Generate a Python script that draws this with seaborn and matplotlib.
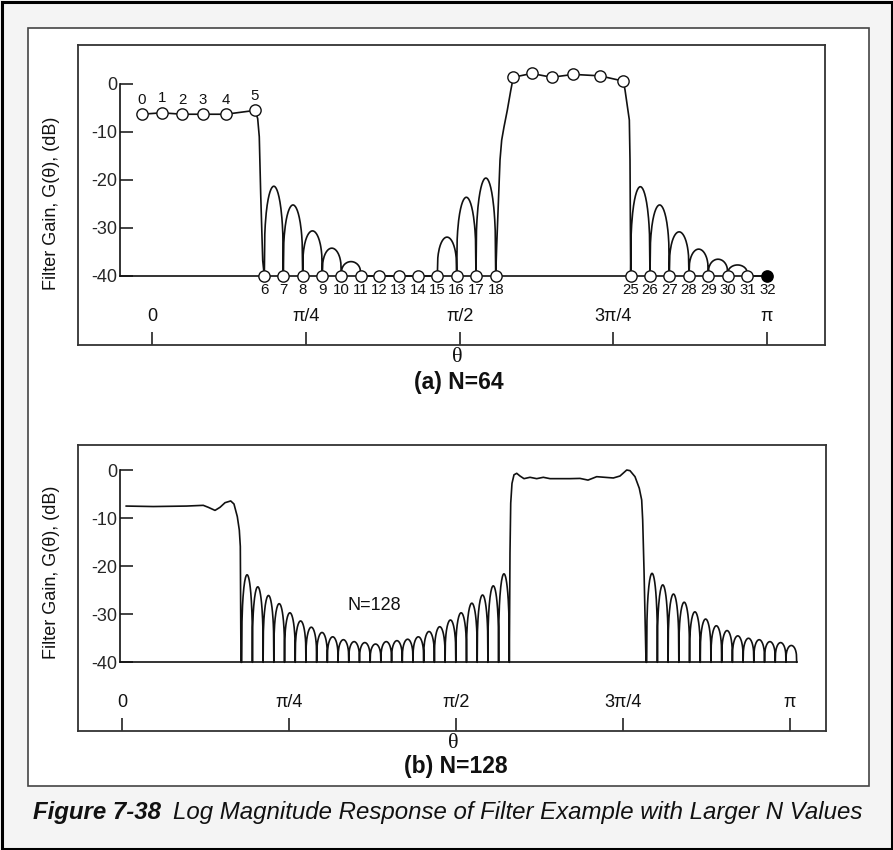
import numpy as np
import matplotlib
matplotlib.use("Agg")
import matplotlib.pyplot as plt
from matplotlib.patches import Rectangle
import seaborn as sns

sns.set_style("white")
plt.rcParams["font.family"] = ["Liberation Sans", "DejaVu Sans"]
plt.rcParams["text.color"] = "#111111"

# ---------------------------------------------------------------- data
# x values are theta / pi, as drawn in the figure
FLOOR = -40

# (a) N=64 : frequency samples k = 0..32
pts64_label = [str(k) for k in range(33)]
pts64_theta = [-0.0174, 0.0151, 0.0487, 0.0823, 0.1193, 0.1669,
               0.1821, 0.2130, 0.2445, 0.2764, 0.3074, 0.3389, 0.3692,
               0.4007, 0.4322, 0.4636, 0.4951, 0.5265, 0.5586,
               0.5872, 0.6171, 0.6497, 0.6848, 0.7283, 0.7662,
               0.7782, 0.8096, 0.8410, 0.8731, 0.9045, 0.9361, 0.9680, 1.0005]
pts64_gain = [-6.3, -6.0, -6.3, -6.3, -6.3, -5.5,
              -40, -40, -40, -40, -40, -40, -40, -40, -40, -40, -40, -40, -40,
              1.4, 2.2, 1.4, 2.0, 1.7, 0.6,
              -40, -40, -40, -40, -40, -40, -40, -40]
# transition edges between samples
drop64a_theta = [0.1713, 0.1739, 0.1762, 0.1795]
drop64a_gain = [-7.2, -11.0, -22.9, -36.8]
rise64_theta = [0.5602, 0.5628, 0.5656, 0.5683, 0.5720, 0.5774, 0.5830]
rise64_gain = [-33.7, -25.0, -15.8, -11.7, -9.0, -5.5, -1.4]
drop64b_theta = [0.7690, 0.7760, 0.7771]
drop64b_gain = [-1.25, -7.5, -15.8]
# side-lobe peaks between consecutive samples (6-7 ... 17-18) and (25-26 ... 31-32)
lobe64_lo_peaks = [-21.3, -25.2, -30.6, -34.2, -37.0, -40, -40, -40, -40, -31.9, -23.6, -19.6]
lobe64_hi_peaks = [-21.4, -25.2, -30.8, -34.4, -36.5, -37.7, -40]

# (b) N=128
pass128a_theta = [0.0055, 0.0464, 0.0965, 0.1213, 0.1288, 0.1389, 0.1464, 0.1539,
                  0.1624, 0.1673, 0.1723, 0.1753, 0.1768, 0.1778]
pass128a_gain = [-7.5, -7.6, -7.5, -7.35, -7.76, -8.4, -7.76, -6.8,
                 -6.44, -7.07, -9.7, -12.5, -15.9, -40]
lobe128_lo_span = [0.1789, 0.5798]
lobe128_lo_peaks = [-21.8, -24.3, -26.1, -27.8, -29.7, -31.4, -32.7, -33.8, -34.7,
                    -35.3, -35.7, -35.9, -36.2, -35.7, -35.5, -35.2, -34.7, -33.6,
                    -32.6, -31.2, -29.7, -27.7, -26.0, -24.1, -21.6]
pass128b_theta = [0.5808, 0.5819, 0.5838, 0.5868, 0.5909, 0.5958, 0.6018, 0.6108,
                  0.6208, 0.6307, 0.6408, 0.6508, 0.6707, 0.6857, 0.6977, 0.7107,
                  0.7231, 0.7356, 0.7456, 0.7557, 0.7606, 0.7681, 0.7745, 0.7781,
                  0.7796, 0.7816, 0.7846]
pass128b_gain = [-17.3, -6.9, -2.8, -1.0, -0.69, -1.25, -1.8, -1.52,
                 -1.8, -1.52, -1.8, -1.8, -1.8, -1.75, -2.1, -1.39,
                 -1.52, -1.66, -1.25, 0.0, -0.14, -1.39, -3.8, -6.24,
                 -10.4, -20.8, -40]
lobe128_hi_span = [0.7856, 1.0103]
lobe128_hi_peaks = [-21.5, -23.9, -25.8, -27.5, -29.5, -31.0, -32.4, -33.4, -34.5,
                    -35.0, -35.3, -35.7, -35.9, -36.5]

ytick_vals = [0, -10, -20, -30, -40]
ytick_labels = ["0", "-10", "-20", "-30", "-40"]
xtick_vals = [0, 0.25, 0.5, 0.75, 1.0]
xtick_labels = ["0", "π/4", "π/2", "3π/4", "π"]

# ---------------------------------------------------------------- helpers
W, H = 893, 850
fig = plt.figure(figsize=(W / 100, H / 100), dpi=100)
fig.patch.set_facecolor("#f4f4f4")


def rect(x0, y0, x1, y1):
    return [x0 / W, 1 - y1 / H, (x1 - x0) / W, (y1 - y0) / H]


def arch(x0, x1, peak, n=41):
    u = np.linspace(0, 1, n)
    return x0 + (x1 - x0) * u, FLOOR + (peak - FLOOR) * np.sin(np.pi * u) ** 0.3


# background boxes
fig.patches.append(Rectangle((1.5 / W, 1.5 / H), 1 - 3 / W, 1 - 3 / H, transform=fig.transFigure,
                             facecolor="none", edgecolor="black", lw=2.2, zorder=-5))
fig.patches.append(Rectangle((28 / W, 1 - 786 / H), (869 - 28) / W, (786 - 28) / H,
                             transform=fig.transFigure, facecolor="white",
                             edgecolor="#444444", lw=1.2, zorder=-4))

LINE = "#111111"
LW = 1.2
TICKLEN = 9.4


def panel(frame_px, plot_px, a, b, curve_x, curve_y, y_center):
    # frame with theta axis
    fx0, fy0, fx1, fy1 = frame_px
    axf = fig.add_axes(rect(*frame_px))
    axf.set_xlim((fx0 - a) / b, (fx1 - a) / b)
    axf.set_ylim(0, 1)
    axf.set_yticks([])
    axf.set_xticks(xtick_vals)
    axf.tick_params(axis="x", direction="in", length=TICKLEN, width=1.2, bottom=True,
                    labelbottom=False, color="#222222")
    for s in axf.spines.values():
        s.set_color("#333333")
        s.set_linewidth(1.3)
    for t, lab in zip(xtick_vals, xtick_labels):
        axf.annotate(lab, (t, 0), xytext=(0, 20.5), textcoords="offset points",
                     ha="center", va="center", fontsize=13)
    axf.annotate("θ", (0.5, 0), xytext=(-2, -9), textcoords="offset points",
                 ha="center", va="center", fontsize=16, family=["Liberation Serif"])
    # plotting axes
    px0, py0, px1, py1 = plot_px
    ax = fig.add_axes(rect(*plot_px))
    ax.patch.set_alpha(0)
    sns.lineplot(x=np.asarray(curve_x), y=np.asarray(curve_y), sort=False, estimator=None,
                 color=LINE, lw=LW, ax=ax, clip_on=False, zorder=2)
    ax.set_xlim((px0 - a) / b, (px1 - a) / b)
    ax.set_ylim(-40, 0)
    ax.set_xticks([])
    ax.set_yticks(ytick_vals, labels=ytick_labels)
    ax.tick_params(axis="y", direction="in", length=TICKLEN, width=1.2, left=True,
                   pad=2, labelsize=13, color="#222222")
    ax.set_xlabel("")
    ax.set_ylabel("")
    for side in ["top", "right"]:
        ax.spines[side].set_visible(False)
    for side in ["left", "bottom"]:
        ax.spines[side].set_color(LINE)
        ax.spines[side].set_linewidth(LW)
    fig.text(52 / W, 1 - y_center / H, "Filter Gain, G(θ), (dB)", rotation=90,
             ha="center", va="center", fontsize=13)
    return ax, axf


# ---------------------------------------------------------------- panel (a)
cx, cy = [], []
cx += pts64_theta[0:6]; cy += pts64_gain[0:6]
cx += drop64a_theta; cy += drop64a_gain
cx += [pts64_theta[6]]; cy += [pts64_gain[6]]
for i, p in enumerate(lobe64_lo_peaks):
    xx, yy = arch(pts64_theta[6 + i], pts64_theta[7 + i], p)
    cx += list(xx[1:]); cy += list(yy[1:])
cx += rise64_theta; cy += rise64_gain
cx += pts64_theta[19:25]; cy += pts64_gain[19:25]
cx += drop64b_theta; cy += drop64b_gain
cx += [pts64_theta[25]]; cy += [pts64_gain[25]]
for i, p in enumerate(lobe64_hi_peaks):
    xx, yy = arch(pts64_theta[25 + i], pts64_theta[26 + i], p)
    cx += list(xx[1:]); cy += list(yy[1:])

A64, B64 = 152.4, 614.6
right64 = A64 + B64 * pts64_theta[-1]
ax1, axf1 = panel((78, 45, 825, 345), (120, 84, right64, 276), A64, B64, cx, cy, 203)

sns.scatterplot(x=pts64_theta[:32], y=pts64_gain[:32], s=66, color="white",
                edgecolor=LINE, linewidth=1.0, ax=ax1, clip_on=False, zorder=4)
sns.scatterplot(x=pts64_theta[32:], y=pts64_gain[32:], s=66, color="black",
                edgecolor="black", linewidth=1.0, ax=ax1, clip_on=False, zorder=4)
ax1.set_xlim((120 - A64) / B64, pts64_theta[-1])
ax1.set_ylim(-40, 0)
for t, g, lab in zip(pts64_theta, pts64_gain, pts64_label):
    dy = 10.3 if g > FLOOR else -9.8
    ax1.annotate(lab, (t, g), xytext=(0, dy), textcoords="offset points",
                 ha="center", va="center", fontsize=10.8)

fig.text(459 / W, 1 - 382 / H, "(a) N=64", ha="center", va="center",
         fontsize=16.5, fontweight="bold")

# ---------------------------------------------------------------- panel (b)
bx, by = [], []
bx += pass128a_theta; by += pass128a_gain
edges = np.linspace(lobe128_lo_span[0], lobe128_lo_span[1], len(lobe128_lo_peaks) + 1)
for i, p in enumerate(lobe128_lo_peaks):
    xx, yy = arch(edges[i], edges[i + 1], p)
    bx += list(xx); by += list(yy)
bx += pass128b_theta; by += pass128b_gain
edges = np.linspace(lobe128_hi_span[0], lobe128_hi_span[1], len(lobe128_hi_peaks) + 1)
for i, p in enumerate(lobe128_hi_peaks):
    xx, yy = arch(edges[i], edges[i + 1], p)
    bx += list(xx); by += list(yy)

A128, B128 = 122.3, 667.5
right128 = A128 + B128 * lobe128_hi_span[1]
ax2, axf2 = panel((78, 445, 826, 731), (120, 470, right128, 662.3), A128, B128, bx, by, 572)
ax2.text((374 - A128) / B128, -28.1, "N=128", ha="center", va="center", fontsize=13)

fig.text(456 / W, 1 - 766 / H, "(b) N=128", ha="center", va="center",
         fontsize=16.5, fontweight="bold")

# ---------------------------------------------------------------- caption
t1 = fig.text(33 / W, 1 - 819 / H, "Figure 7-38", ha="left", va="baseline",
              fontsize=17.3, fontweight="bold", fontstyle="italic")
fig.canvas.draw()
bb = t1.get_window_extent()
fig.text(bb.x1 / W + 12 / W, 1 - 819 / H, "Log Magnitude Response of Filter Example with Larger N Values",
         ha="left", va="baseline", fontsize=17.3, fontstyle="italic")

fig.savefig("out.png", dpi=100, facecolor=fig.get_facecolor())
